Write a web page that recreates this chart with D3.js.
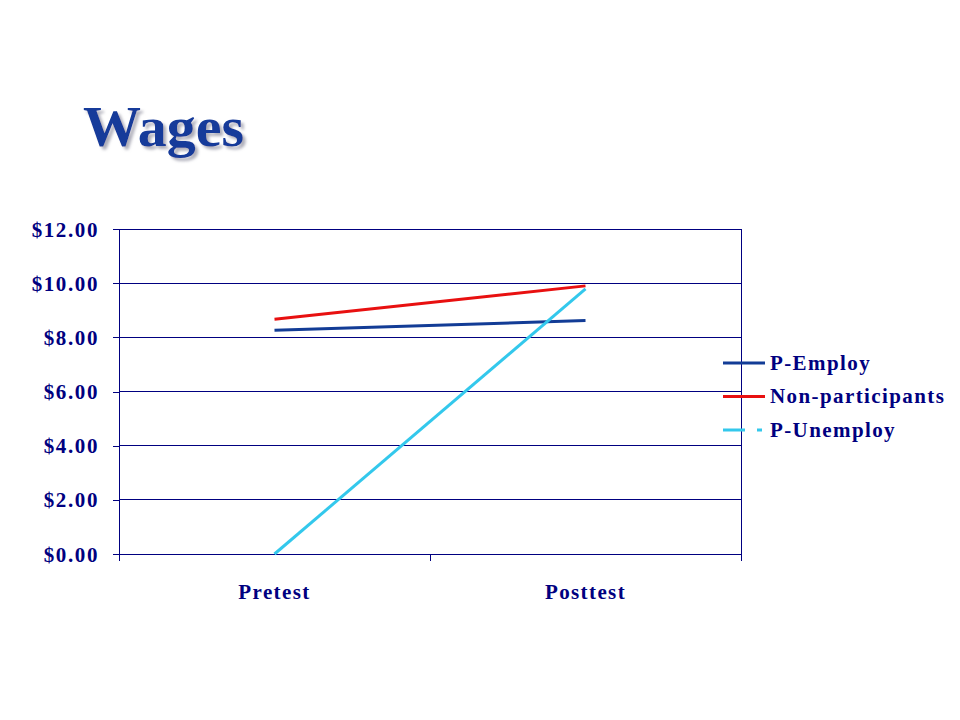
<!DOCTYPE html>
<html>
<head>
<meta charset="utf-8">
<script src="https://cdn.jsdelivr.net/npm/d3@7"></script>
<style>
html,body{margin:0;padding:0;background:#fff;}
svg{display:block;}
</style>
</head>
<body>
<svg id="chart" width="960" height="720"></svg>
<script>
const categories = ["Pretest", "Posttest"];
const seriesNames = ["P-Employ", "Non-participants", "P-Unemploy"];
const pEmploy = [8.26, 8.62];
const nonParticipants = [8.67, 9.90];
const pUnemploy = [0.00, 9.79];
const yTicks = [0, 2, 4, 6, 8, 10, 12];
const seriesColors = ["#123C96", "#E81010", "#33C8EC"];

(function () {
const series = [
  {name: seriesNames[0], values: pEmploy, color: seriesColors[0], legendDash: null},
  {name: seriesNames[1], values: nonParticipants, color: seriesColors[1], legendDash: null},
  {name: seriesNames[2], values: pUnemploy, color: seriesColors[2], legendDash: "22,12,5"}
];

const svg = d3.select("#chart");
const navy = "#000080";
const font = "'Liberation Serif','Times New Roman',serif";

// Title with soft shadow
const defs = svg.append("defs");
const f = defs.append("filter").attr("id", "shadow")
  .attr("x", "-10%").attr("y", "-10%").attr("width", "130%").attr("height", "130%");
f.append("feDropShadow").attr("dx", 3).attr("dy", 3).attr("stdDeviation", 1.5)
  .attr("flood-color", "#9a9aa8").attr("flood-opacity", 0.8);

svg.append("text").attr("x", 83).attr("y", 146)
  .attr("font-family", font).attr("font-weight", "bold").attr("font-size", 58)
  .attr("fill", "#123a9a").attr("filter", "url(#shadow)").text("Wages");

const pLeft = 119, pRight = 741, pTop = 229, pBottom = 554;

const x = d3.scaleBand().domain(categories).range([pLeft, pRight]);
const y = d3.scaleLinear().domain([0, 12]).range([pBottom, pTop]);

// gridlines
svg.append("g").selectAll("line").data(yTicks).join("line")
  .attr("x1", pLeft).attr("x2", pRight)
  .attr("y1", d => y(d)).attr("y2", d => y(d))
  .attr("stroke", navy).attr("stroke-width", 1).attr("shape-rendering", "crispEdges");

// right border
svg.append("line").attr("x1", pRight).attr("x2", pRight).attr("y1", pTop).attr("y2", pBottom)
  .attr("stroke", navy).attr("shape-rendering", "crispEdges");

// y axis
const yAxis = svg.append("g").attr("transform", `translate(${pLeft},0)`)
  .call(d3.axisLeft(y).tickValues(yTicks).tickSize(6).tickPadding(14).tickFormat(d => "$" + d3.format(".2f")(d)));
yAxis.select(".domain").attr("stroke", navy).attr("shape-rendering", "crispEdges");
yAxis.selectAll(".tick line").attr("stroke", navy).attr("shape-rendering", "crispEdges");
yAxis.selectAll(".tick text").attr("fill", navy).attr("font-family", font)
  .attr("font-weight", "bold").attr("font-size", 21).attr("letter-spacing", 1.6)
  .attr("dy", "0.34em");

// x axis
const xAxis = svg.append("g").attr("transform", `translate(0,${pBottom})`)
  .call(d3.axisBottom(x).tickSize(0).tickPadding(30));
xAxis.select(".domain").attr("stroke", navy).attr("shape-rendering", "crispEdges");
xAxis.selectAll(".tick text").attr("fill", navy).attr("font-family", font)
  .attr("font-weight", "bold").attr("font-size", 21).attr("letter-spacing", 1.4);
// category boundary ticks
const bounds = [pLeft, pLeft + x.bandwidth(), pRight];
svg.append("g").selectAll("line").data(bounds).join("line")
  .attr("x1", d => d).attr("x2", d => d).attr("y1", pBottom).attr("y2", pBottom + 7)
  .attr("stroke", navy).attr("shape-rendering", "crispEdges");

// series lines
const line = d3.line().x((d, i) => x(categories[i]) + x.bandwidth() / 2).y(d => y(d));
svg.append("g").selectAll("path").data(series).join("path")
  .attr("d", d => line(d.values))
  .attr("fill", "none").attr("stroke", d => d.color).attr("stroke-width", 3);

// legend
const legend = svg.append("g").selectAll("g").data(series).join("g")
  .attr("transform", (d, i) => `translate(723,${363 + i * 33.5})`);
legend.append("line").attr("x1", 0).attr("x2", 42).attr("y1", 0).attr("y2", 0)
  .attr("stroke", d => d.color).attr("stroke-width", 3)
  .attr("stroke-dasharray", d => d.legendDash);
legend.append("text").attr("x", 47).attr("y", 0).attr("dy", "0.33em")
  .attr("fill", navy).attr("font-family", font).attr("font-weight", "bold")
  .attr("font-size", 21).attr("letter-spacing", 1.4).text(d => d.name);
})();
</script>
</body>
</html>
